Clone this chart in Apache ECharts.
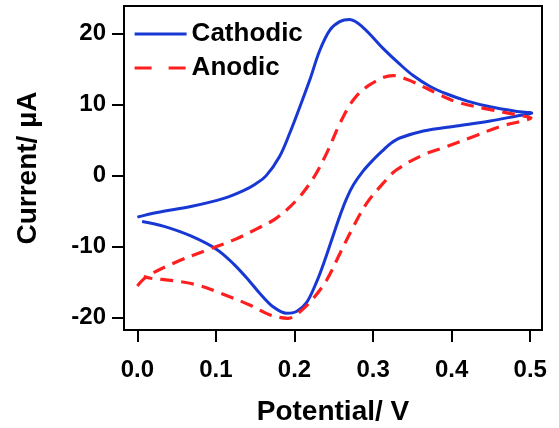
<!DOCTYPE html>
<html>
<head>
<meta charset="utf-8">
<script src="https://cdn.jsdelivr.net/npm/echarts@6/dist/echarts.min.js"></script>
<style>html,body{margin:0;padding:0;background:#fff}#c{width:559px;height:428px}</style>
</head>
<body>
<div id="c"></div>
<script>
var xTicks = [0.0, 0.1, 0.2, 0.3, 0.4, 0.5];
var yTicks = [-20, -10, 0, 10, 20];
var seriesNames = ['Cathodic', 'Anodic'];

var cathodicV = [0.000, 0.025, 0.068, 0.110, 0.135, 0.150, 0.164, 0.181, 0.194, 0.207, 0.2195, 0.232, 0.245, 0.2575, 0.270, 0.287, 0.313, 0.334, 0.351, 0.372, 0.394, 0.420, 0.449, 0.483, 0.502,
                 0.483, 0.449, 0.406, 0.364, 0.334, 0.322, 0.313, 0.300, 0.287, 0.275, 0.266, 0.258, 0.249, 0.2386, 0.228, 0.2153, 0.2025, 0.190, 0.173, 0.156, 0.143, 0.123, 0.101, 0.068, 0.034, 0.006];
var cathodicI = [-5.85, -5.2, -4.35, -3.2, -2.1, -1.2, 0.0, 2.7, 6.0, 9.75, 13.5, 17.6, 20.5, 21.7, 22.0, 20.9, 17.9, 15.7, 14.1, 12.6, 11.5, 10.5, 9.7, 9.05, 8.8,
                 8.4, 7.7, 7.0, 6.3, 5.3, 4.5, 3.6, 2.2, 0.6, -1.3, -3.3, -5.6, -8.5, -11.9, -15.0, -17.9, -19.15, -19.4, -18.5, -16.6, -14.9, -12.5, -10.4, -8.5, -7.15, -6.45];

var anodicV = [0.000, 0.012, 0.046, 0.089, 0.123, 0.152, 0.177, 0.203, 0.224, 0.241, 0.258, 0.275, 0.296, 0.325, 0.351, 0.381, 0.406, 0.449, 0.491, 0.501,
               0.496, 0.462, 0.428, 0.394, 0.364, 0.330, 0.313, 0.292, 0.275, 0.258, 0.241, 0.224, 0.207, 0.192, 0.169, 0.143, 0.106, 0.076, 0.046, 0.017, 0.008];
var anodicI = [-15.54, -14.23, -12.34, -10.46, -9.05, -7.5, -5.99, -3.41, -0.35, 3.17, 7.40, 10.69, 12.81, 14.1, 13.2, 11.6, 10.4, 9.3, 8.4, 8.15,
               7.87, 6.93, 5.51, 4.10, 2.93, 0.82, -1.06, -3.88, -7.18, -10.93, -14.70, -17.28, -19.17, -20.1, -19.63, -18.22, -16.57, -15.4, -14.8, -14.46, -14.23];

function pairs(xs, ys) { return xs.map(function (v, i) { return [v, ys[i]]; }); }

var font = 'Liberation Sans, Arial, sans-serif';
var chart = echarts.init(document.getElementById('c'));
chart.setOption({
  animation: false,
  backgroundColor: '#fff',
  grid: { left: 124, top: 6, right: 17, bottom: 98, show: true, borderColor: '#000', borderWidth: 2,
    containLabel: false, outerBoundsMode: 'none' },
  legend: {
    left: 128, top: 16, orient: 'vertical', itemWidth: 52, itemHeight: 20, itemGap: 8,
    data: [
      { name: seriesNames[0], lineStyle: { width: 3 } },
      { name: seriesNames[1], lineStyle: { width: 3.2, type: [17, 17] } }
    ],
    itemStyle: { opacity: 0 },
    textStyle: { fontFamily: font, fontWeight: 'bold', fontSize: 26, color: '#000' }
  },
  xAxis: {
    type: 'value', min: -0.017, max: 0.515,
    name: 'Potential/ V', nameLocation: 'middle', nameGap: 68,
    nameTextStyle: { fontFamily: font, fontWeight: 'bold', fontSize: 28, color: '#000' },
    axisLine: { show: true, onZero: false, lineStyle: { color: '#000', width: 2 } },
    axisTick: { show: true, customValues: xTicks, length: 12, inside: false, lineStyle: { color: '#000', width: 2 } },
    axisLabel: { customValues: xTicks, margin: 28, fontFamily: font, fontWeight: 'bold', fontSize: 24, color: '#000',
      formatter: function (v) { return v.toFixed(1); } },
    splitLine: { show: false }
  },
  yAxis: {
    type: 'value', min: -21.75, max: 23.9,
    name: 'Current/ µA', nameLocation: 'middle', nameGap: 82,
    nameTextStyle: { fontFamily: font, fontWeight: 'bold', fontSize: 28, color: '#000' },
    axisLine: { show: true, onZero: false, lineStyle: { color: '#000', width: 2 } },
    axisTick: { show: true, customValues: yTicks, length: 12, inside: false, lineStyle: { color: '#000', width: 2 } },
    axisLabel: { customValues: yTicks, margin: 18, fontFamily: font, fontWeight: 'bold', fontSize: 24, color: '#000' },
    splitLine: { show: false }
  },
  series: [
    { name: seriesNames[0], type: 'line', data: pairs(cathodicV, cathodicI), smooth: 0.35, symbol: 'none',
      lineStyle: { color: '#1838d4', width: 3 }, itemStyle: { color: '#1838d4' } },
    { name: seriesNames[1], type: 'line', data: pairs(anodicV, anodicI), smooth: 0.35, symbol: 'none',
      lineStyle: { color: '#ff1f1f', width: 3.2, type: [13, 8] }, itemStyle: { color: '#ff1f1f' } }
  ]
});
</script>
</body>
</html>
